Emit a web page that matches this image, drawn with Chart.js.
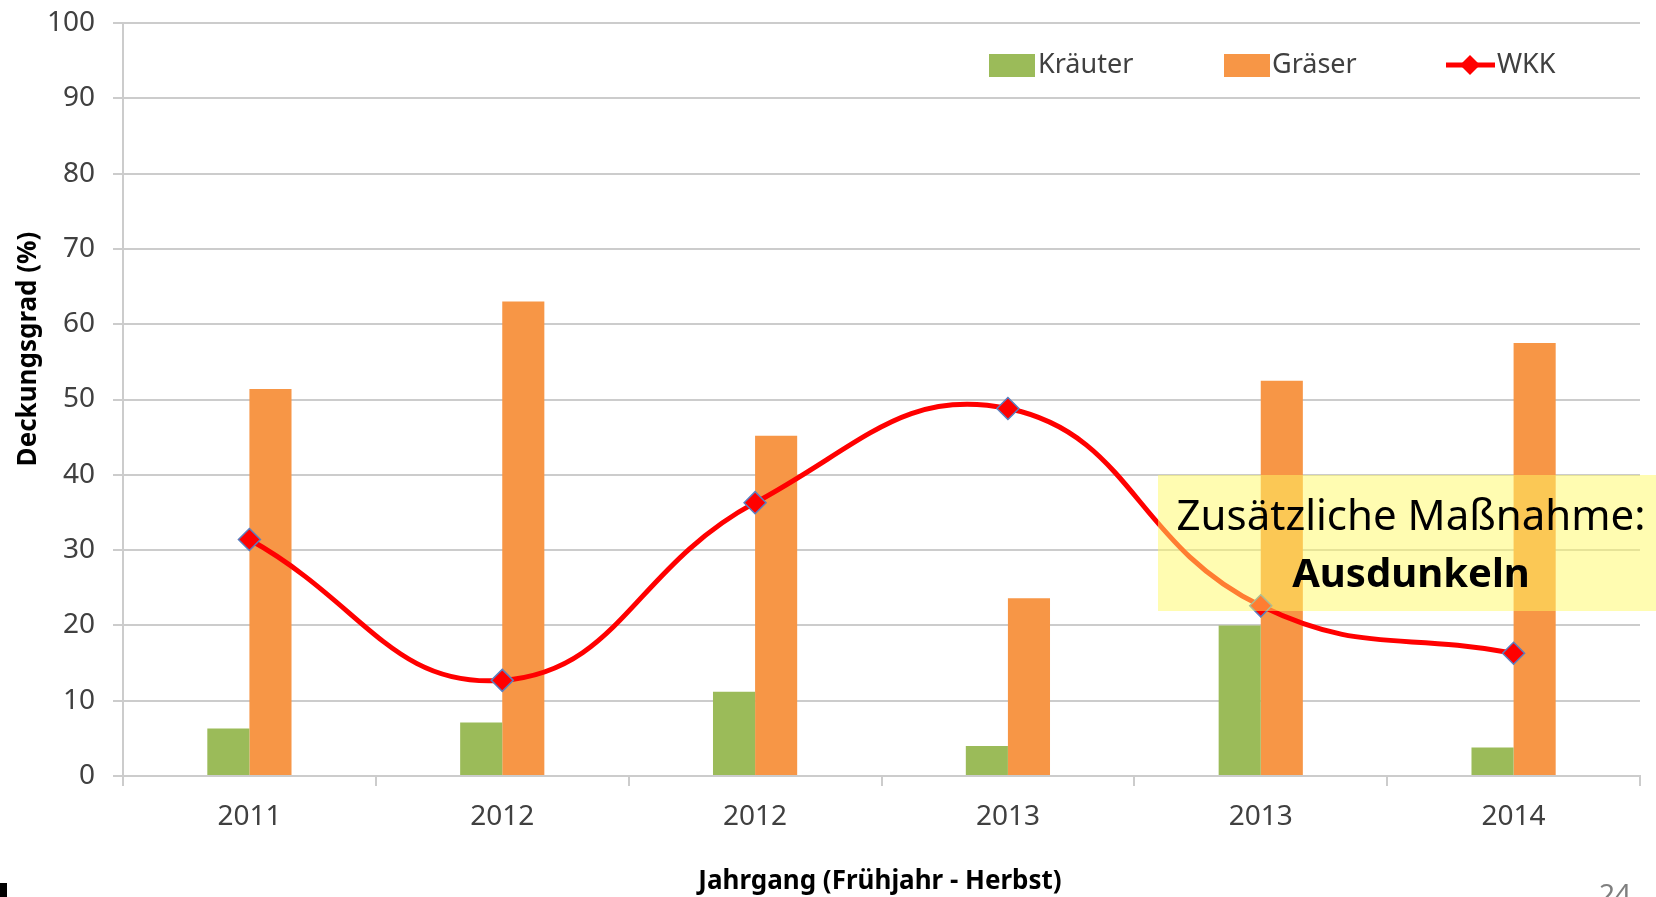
<!DOCTYPE html>
<html>
<head>
<meta charset="utf-8">
<script src="https://cdn.jsdelivr.net/npm/chart.js@4/dist/chart.umd.min.js"></script>
<style>
  html, body { margin: 0; padding: 0; background: #fff; }
  #wrap { width: 1656px; height: 897px; }
</style>
</head>
<body>
<div id="wrap"><canvas id="chart" width="1656" height="897"></canvas></div>
<script>
// Werte
const categories = ['2011', '2012', '2012', '2013', '2013', '2014'];
const kraeuter = [6.3, 7.1, 11.2, 4.0, 20.0, 3.8];
const graeser = [51.4, 63.0, 45.2, 23.6, 52.5, 57.5];
const wkk = [31.4, 12.7, 36.3, 48.8, 22.6, 16.3];
const yTicks = [0, 10, 20, 30, 40, 50, 60, 70, 80, 90, 100];

const FONT = '"Noto Sans", "Open Sans", sans-serif';
const GRID = '#cccccc';

// Titles, legend, yellow note box and slide bits
const extras = {
  id: 'extras',
  afterDatasetsDraw(chart) {
    const ctx = chart.ctx;
    ctx.save();
    // yellow note box on top of bars and line
    ctx.fillStyle = 'rgba(255, 250, 100, 0.5)';
    ctx.fillRect(1158, 475, 498, 136);
    ctx.fillStyle = '#000';
    ctx.textAlign = 'center';
    ctx.textBaseline = 'alphabetic';
    ctx.font = '42px ' + FONT;
    ctx.fillText('Zusätzliche Maßnahme:', 1411, 530);
    ctx.font = 'bold 40px ' + FONT;
    ctx.fillText('Ausdunkeln', 1411, 587);
    ctx.restore();
  },
  afterDraw(chart) {
    const ctx = chart.ctx;
    const ds = chart.data.datasets;
    ctx.save();
    // axis titles
    ctx.fillStyle = '#000';
    ctx.font = 'bold 26px ' + FONT;
    ctx.textAlign = 'center';
    ctx.textBaseline = 'alphabetic';
    ctx.fillText('Jahrgang (Frühjahr - Herbst)', 880, 889);
    ctx.translate(36, 349);
    ctx.rotate(-Math.PI / 2);
    ctx.font = 'bold 26px ' + FONT;
    ctx.fillText('Deckungsgrad (%)', 0, 0);
    ctx.setTransform(1, 0, 0, 1, 0, 0);

    // legend
    ctx.font = '27px ' + FONT;
    ctx.textAlign = 'left';
    ctx.textBaseline = 'middle';
    const ly = 65;
    ctx.fillStyle = ds[0].backgroundColor;
    ctx.fillRect(989, 54, 46, 23);
    ctx.fillStyle = '#404040';
    ctx.fillText(ds[0].label, 1038, ly);
    ctx.fillStyle = ds[1].backgroundColor;
    ctx.fillRect(1224, 54, 46, 23);
    ctx.fillStyle = '#404040';
    ctx.fillText(ds[1].label, 1272, ly);
    ctx.strokeStyle = ds[2].borderColor;
    ctx.lineWidth = 5;
    ctx.beginPath();
    ctx.moveTo(1446, ly);
    ctx.lineTo(1495, ly);
    ctx.stroke();
    ctx.fillStyle = ds[2].pointBackgroundColor;
    ctx.beginPath();
    ctx.moveTo(1470, ly - 10);
    ctx.lineTo(1480, ly);
    ctx.lineTo(1470, ly + 10);
    ctx.lineTo(1460, ly);
    ctx.closePath();
    ctx.fill();
    ctx.fillStyle = '#404040';
    ctx.fillText(ds[2].label, 1497, ly);

    // slide number and corner mark
    ctx.fillStyle = '#7f7f7f';
    ctx.font = '28px ' + FONT;
    ctx.textBaseline = 'top';
    ctx.fillText('24', 1599, 882);
    ctx.fillStyle = '#000';
    ctx.fillRect(0, 883, 7, 14);
    ctx.restore();
  }
};

new Chart(document.getElementById('chart'), {
  type: 'bar',
  data: {
    labels: categories,
    datasets: [
      { label: 'Kräuter', data: kraeuter, backgroundColor: '#9bbb59', order: 1,
        categoryPercentage: 0.333, barPercentage: 1.0 },
      { label: 'Gräser', data: graeser, backgroundColor: '#f79646', order: 1,
        categoryPercentage: 0.333, barPercentage: 1.0 },
      { label: 'WKK', type: 'line', data: wkk, order: 0,
        borderColor: '#ff0000', borderWidth: 5, tension: 0.45,
        pointStyle: 'rectRot', pointRadius: 11, pointBackgroundColor: '#ff0000',
        pointBorderColor: '#5b7fbf', pointBorderWidth: 1.5, fill: false }
    ]
  },
  options: {
    responsive: false,
    animation: false,
    layout: { padding: { top: 23, right: 16, left: 0, bottom: 0 } },
    plugins: { legend: { display: false }, tooltip: { enabled: false } },
    scales: {
      x: {
        grid: { drawOnChartArea: false, drawTicks: true, tickLength: 10, color: GRID, lineWidth: 2 },
        border: { color: GRID, width: 2 },
        ticks: { color: '#404040', font: { family: FONT, size: 28 }, padding: 14 },
        afterFit(scale) { scale.height = 121; scale.paddingLeft = 0; scale.paddingRight = 0; }
      },
      y: {
        min: 0, max: 100,
        afterBuildTicks(scale) { scale.ticks = yTicks.map(v => ({ value: v })); },
        grid: { color: GRID, lineWidth: 2, tickLength: 10 },
        border: { color: GRID, width: 2 },
        ticks: { color: '#404040', font: { family: FONT, size: 28 }, padding: 18 },
        afterFit(scale) { scale.width = 123; scale.paddingTop = 0; scale.paddingBottom = 0; }
      }
    }
  },
  plugins: [extras]
});
</script>
</body>
</html>
